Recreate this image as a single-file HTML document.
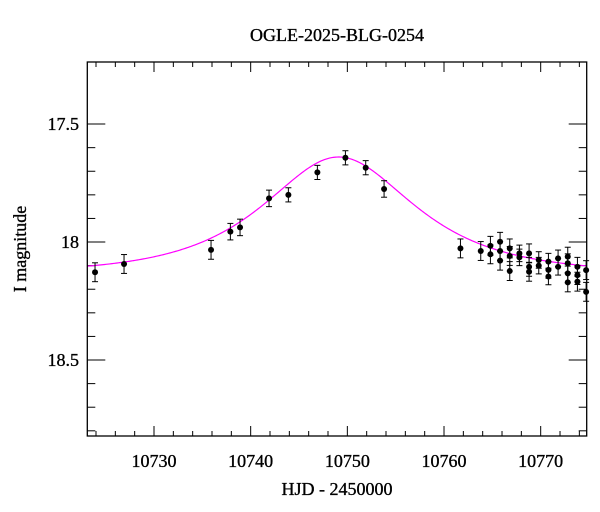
<!DOCTYPE html>
<html><head><meta charset="utf-8"><style>
html,body{margin:0;padding:0;background:#fff}
svg{display:block;font-family:"Liberation Serif",serif}
.lbl{stroke:#000;stroke-width:0.35}
</style></head><body>
<svg id="chart" width="600" height="512" viewBox="0 0 600 512">
<text class="lbl" x="337" y="41" font-size="18" text-anchor="middle">OGLE-2025-BLG-0254</text>
<text class="lbl" x="337" y="495" font-size="18" text-anchor="middle">HJD - 2450000</text>
<text class="lbl" transform="translate(26,249) rotate(-90)" font-size="18" text-anchor="middle">I magnitude</text>
<g id="ticks"></g><g id="curve"></g><g id="pts"></g>
<rect x="87.3" y="62" width="499.4" height="374" fill="none" stroke="#000" stroke-width="1.3"/>
</svg>
<script>
const times=[10723.9,10726.9,10735.9,10737.9,10738.9,10741.9,10743.9,10746.9,10749.8,10751.9,10753.8,10761.7,10763.8,10764.8,10764.8,10765.8,10765.8,10765.8,10766.8,10766.8,10766.8,10767.8,10767.8,10768.8,10768.8,10768.8,10769.8,10769.8,10770.8,10770.8,10770.8,10771.8,10771.8,10772.8,10772.8,10772.8,10772.8,10773.8,10773.8,10773.8,10774.7,10774.7];
const mags=[18.128,18.093,18.033,17.956,17.938,17.815,17.800,17.705,17.643,17.685,17.775,18.027,18.038,18.016,18.052,17.999,18.038,18.079,18.027,18.059,18.123,18.048,18.065,18.048,18.105,18.126,18.076,18.100,18.083,18.118,18.146,18.069,18.105,18.062,18.090,18.133,18.171,18.105,18.140,18.168,18.119,18.211];
const errs=[0.04,0.04,0.04,0.035,0.035,0.035,0.03,0.03,0.03,0.03,0.035,0.04,0.04,0.04,0.04,0.04,0.04,0.04,0.04,0.04,0.04,0.035,0.035,0.04,0.04,0.04,0.035,0.035,0.035,0.035,0.035,0.035,0.035,0.04,0.04,0.04,0.04,0.04,0.04,0.04,0.04,0.04];
const xTicks=[10730,10740,10750,10760,10770];
const yTicks=[17.5,18,18.5];
const fit={t0:10749.1,tE:10.9,u0:0.765,m0:18.135};
const X0=10723.1,X1=10774.76,Y0=17.237,Y1=18.822;
const L=87.3,R=586.7,T=62,B=436;
const sx=t=>L+(t-X0)/(X1-X0)*(R-L);
const sy=m=>T+(m-Y0)/(Y1-Y0)*(B-T);
const NS='http://www.w3.org/2000/svg';
function mk(tag,at,parent){const e=document.createElementNS(NS,tag);for(const k in at)e.setAttribute(k,at[k]);parent.appendChild(e);return e;}
const tg=document.getElementById('ticks');
for(let t=10724;t<=10774;t+=2){const maj=t%10===0,len=maj?10:5;
 let a=mk('line',{x1:sx(t),x2:sx(t),y1:B,y2:B-len,stroke:'#000','stroke-width':1},tg);
 
 
 let b=mk('line',{x1:sx(t),x2:sx(t),y1:T,y2:T+len,stroke:'#000','stroke-width':1},tg);
 
 }
xTicks.forEach(t=>{const e=mk('text',{x:sx(t),y:467,'font-size':18,'text-anchor':'middle','class':'lbl'},tg);e.textContent=t;
 
 });
for(let i=3;i<=18;i++){const m=17.2+i*0.1;if(m<Y0||m>Y1)continue;const maj=Math.abs(m*2-Math.round(m*2))<1e-6,len=maj?18:8;
 let a=mk('line',{x1:L,x2:L+len,y1:sy(m),y2:sy(m),stroke:'#000','stroke-width':1},tg);
 
 
 let b=mk('line',{x1:R,x2:R-len,y1:sy(m),y2:sy(m),stroke:'#000','stroke-width':1},tg);
 
 }
yTicks.forEach(m=>{const e=mk('text',{x:79,y:sy(m)+6,'font-size':18,'text-anchor':'end','class':'lbl'},tg);e.textContent=String(m);
 
 });
let d='';for(let i=0;i<=400;i++){const t=X0+(X1-X0)*i/400;const tau=(t-fit.t0)/fit.tE;const u=Math.sqrt(fit.u0*fit.u0+tau*tau);const A=(u*u+2)/(u*Math.sqrt(u*u+4));const m=fit.m0-2.5*Math.log10(A);d+=(i?'L':'M')+sx(t).toFixed(2)+' '+sy(m).toFixed(2);}
const c=mk('path',{d:d,fill:'none',stroke:'#ff00ff','stroke-width':1.2},document.getElementById('curve'));


const pg=document.getElementById('pts');
times.forEach((t,i)=>{const x=sx(t),y1=sy(mags[i]-errs[i]),y2=sy(mags[i]+errs[i]);
 const g=mk('g',{stroke:'#000','stroke-width':1},pg);
 
 
 mk('line',{x1:x,x2:x,y1:y1,y2:y2},g);
 mk('line',{x1:x-3,x2:x+3,y1:y1,y2:y1},g);
 mk('line',{x1:x-3,x2:x+3,y1:y2,y2:y2},g);
 mk('circle',{cx:x,cy:sy(mags[i]),r:3,fill:'#000',stroke:'none'},g);});
</script>
</body></html>
